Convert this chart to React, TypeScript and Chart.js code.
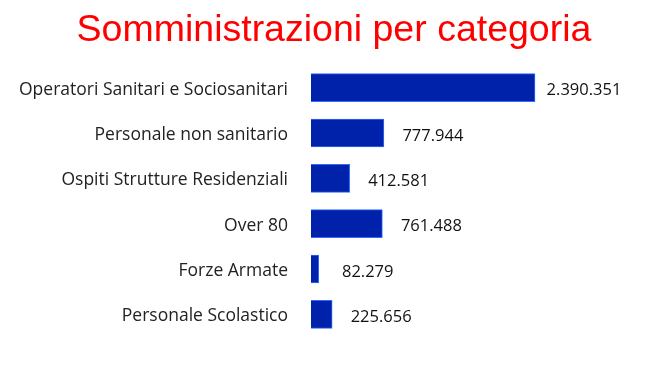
import React, { useEffect, useRef } from "react";
import { Chart, registerables } from "chart.js";

Chart.register(...registerables);

const title = "Somministrazioni per categoria";
const categories = [
  "Operatori Sanitari e Sociosanitari",
  "Personale non sanitario",
  "Ospiti Strutture Residenziali",
  "Over 80",
  "Forze Armate",
  "Personale Scolastico",
];
const values = [2390351, 777944, 412581, 761488, 82279, 225656];
const xMax = 3810000;

const fmt = (v: number) => String(v).replace(/\B(?=(\d{3})+(?!\d))/g, ".");

const valueLabels = {
  id: "valueLabels",
  afterDatasetsDraw(chart: any) {
    const ctx = chart.ctx;
    const meta = chart.getDatasetMeta(0);
    ctx.save();
    ctx.font = '16.5px "Open Sans"';
    ctx.fillStyle = "#111111";
    ctx.textAlign = "center";
    ctx.textBaseline = "middle";
    meta.data.forEach((bar: any, i: number) => {
      ctx.fillText(fmt(values[i]), bar.x + 49, bar.y + 3);
    });
    ctx.restore();
  },
};

export default function App() {
  const ref = useRef<HTMLCanvasElement>(null);
  useEffect(() => {
    document.body.style.margin = "0";
    const chart = new Chart(ref.current!, {
      type: "bar",
      data: {
        labels: categories,
        datasets: [
          {
            data: values,
            backgroundColor: "#0022AA",
            borderColor: "#2F6BFF",
            borderWidth: 1,
            barThickness: 28,
          },
        ],
      },
      options: {
        indexAxis: "y",
        responsive: false,
        animation: false,
        layout: { padding: { left: 0, right: 0, top: 0, bottom: 34 } },
        plugins: {
          legend: { display: false },
          tooltip: { enabled: false },
          title: {
            display: true,
            text: title,
            color: "#FF0000",
            font: { family: '"Liberation Sans", Arial, sans-serif', size: 37.5, weight: "normal" },
            padding: { top: 8, bottom: 12 },
          },
        },
        scales: {
          x: { display: false, min: 0, max: xMax },
          y: {
            grid: { display: false, drawTicks: false },
            border: { display: false },
            ticks: {
              color: "#222222",
              padding: 23,
              labelOffset: 2,
              font: { family: '"Open Sans", sans-serif', size: 17.5 },
            },
            afterFit(scale: any) {
              scale.width = 311;
            },
          },
        },
      },
      plugins: [valueLabels],
    });
    return () => chart.destroy();
  }, []);
  return <canvas ref={ref} width={668} height={371} style={{ display: "block" }} />;
}
